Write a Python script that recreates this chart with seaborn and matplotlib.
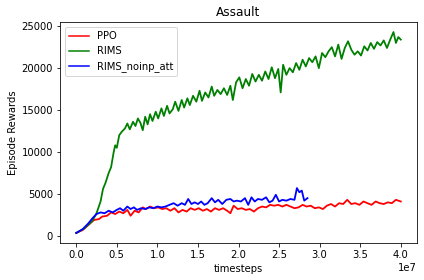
import numpy as np
import pandas as pd
import matplotlib
matplotlib.use('Agg')
import matplotlib.pyplot as plt
import seaborn as sns

# timesteps in millions, rewards
ppo_steps = [0, 0.8, 1.5, 2.2, 2.8, 3.2, 3.8, 4.3, 4.8, 5.3, 5.8, 6.3, 6.7, 7.2, 7.7, 8.2, 8.6, 9.1,
             9.6, 10.1, 10.6, 11.1, 11.6, 12.1, 12.6, 13.1, 13.6, 14.1, 14.6, 15.1, 15.6, 16.1, 16.6,
             17.1, 17.6, 18.1, 18.6, 19.0, 19.4, 19.9, 20.4, 20.9, 21.4, 21.9, 22.4, 22.9, 23.4, 23.9,
             24.4, 24.9, 25.4, 25.9, 26.4, 26.9, 27.4, 27.9, 28.4, 28.9, 29.4, 29.9, 30.4, 30.9, 31.4,
             31.9, 32.4, 32.9, 33.4, 33.9, 34.4, 34.9, 35.4, 35.9, 36.4, 36.9, 37.4, 37.9, 38.4, 38.9,
             39.4, 40.0]
ppo_reward = [350, 700, 1300, 1900, 2000, 2300, 2400, 2800, 2600, 2900, 2700, 3100, 2400, 3000, 2800,
              3400, 3200, 3500, 3300, 3400, 3200, 3300, 3000, 3300, 2800, 3100, 2900, 3300, 3100, 3300,
              3000, 3200, 2900, 3300, 3100, 3300, 3000, 2700, 3600, 3200, 3300, 3100, 3200, 2900, 3300,
              3500, 3400, 3700, 3600, 3700, 3500, 3700, 3500, 3300, 3400, 3700, 3500, 3600, 3300, 3400,
              3200, 3600, 3800, 3500, 3900, 3800, 4300, 3800, 3900, 3700, 4100, 3900, 3700, 4100, 3900,
              3800, 4000, 3900, 4300, 4100]

rims_steps = [0, 1, 2, 2.5, 3, 3.3, 3.6, 4, 4.3, 4.6, 4.8, 5.0, 5.3, 5.6, 6.0, 6.3, 6.6, 7.0, 7.3, 7.6,
              7.9, 8.2, 8.5, 8.8, 9.1, 9.4, 9.8, 10.1, 10.5, 10.8, 11.2, 11.5, 11.9, 12.2, 12.6, 13.0,
              13.3, 13.7, 14.0, 14.4, 14.8, 15.2, 15.5, 15.9, 16.3, 16.7, 17.0, 17.4, 17.8, 18.2, 18.6,
              19.0, 19.3, 19.7, 20.1, 20.5, 20.9, 21.3, 21.7, 22.1, 22.5, 22.9, 23.3, 23.7, 24.1, 24.5,
              24.9, 25.2, 25.5, 25.9, 26.3, 26.7, 27.1, 27.5, 27.9, 28.3, 28.7, 29.1, 29.5, 29.9, 30.3,
              30.7, 31.1, 31.5, 31.9, 32.3, 32.7, 33.1, 33.5, 33.9, 34.3, 34.7, 35.1, 35.5, 35.9, 36.3,
              36.7, 37.1, 37.5, 37.9, 38.3, 38.7, 39.1, 39.4, 39.7, 40.0]
rims_reward = [350, 900, 1800, 2700, 4100, 5600, 6300, 7500, 8200, 9900, 10800, 10500, 12000, 12400,
               12800, 13400, 12700, 13600, 13100, 14000, 13500, 12600, 14200, 13300, 14500, 13700, 14800,
               14000, 15200, 14300, 15500, 14600, 15100, 16000, 14900, 16200, 15300, 16400, 15600, 16700,
               16000, 17300, 16100, 17100, 16500, 17800, 16700, 17400, 16900, 17600, 16800, 17900, 16200,
               18300, 18900, 17600, 18700, 17900, 19300, 18400, 19200, 18500, 19600, 18700, 20100, 18800,
               19900, 17100, 20400, 19200, 20000, 19500, 20600, 19800, 21000, 20200, 21200, 20700, 21400,
               20000, 21800, 21300, 22000, 22500, 21400, 22800, 21100, 22400, 23200, 22200, 21600, 22000,
               21500, 22600, 22100, 23000, 22300, 23100, 22700, 23300, 22400, 23400, 24300, 23000, 23700,
               23400]

noinp_steps = [0, 0.8, 1.5, 2.0, 2.5, 3.0, 3.5, 4.0, 4.5, 5.0, 5.4, 5.8, 6.3, 6.7, 7.1, 7.5, 8.0, 8.5,
               9.0, 9.5, 10.0, 10.5, 11.0, 11.5, 12.0, 12.5, 13.0, 13.4, 13.8, 14.2, 14.6, 15.0, 15.4,
               15.8, 16.2, 16.7, 17.1, 17.5, 18.0, 18.5, 19.0, 19.4, 19.8, 20.3, 20.8, 21.2, 21.6, 22.0,
               22.4, 22.9, 23.4, 23.8, 24.2, 24.6, 25.0, 25.4, 25.9, 26.4, 26.9, 27.2, 27.5, 27.8, 28.1,
               28.5]
noinp_reward = [350, 800, 1500, 2100, 2600, 2800, 2700, 3000, 2800, 3100, 3300, 3000, 3500, 3200, 3400,
                3100, 3300, 3200, 3400, 3300, 3500, 3400, 3500, 3700, 3900, 3600, 3900, 3700, 4400, 3800,
                4000, 3800, 4100, 3700, 3900, 4500, 4000, 4300, 3800, 4300, 4400, 4100, 4200, 4100, 4500,
                3700, 4600, 4100, 4400, 4300, 4600, 4000, 4200, 4900, 4100, 4300, 4200, 4400, 4300, 5700,
                5200, 5400, 4200, 4500]

fig = plt.figure(figsize=(424 / 72, 280 / 72), dpi=72)
ax = fig.add_axes([60 / 424, 1 - 243 / 280, (417 - 60) / 424, (243 - 22) / 280])

sns.lineplot(x=np.array(ppo_steps) * 1e6, y=ppo_reward, color='r', label='PPO',
             estimator=None, linewidth=1.8, ax=ax)
sns.lineplot(x=np.array(rims_steps) * 1e6, y=rims_reward, color='g', label='RIMS',
             estimator=None, linewidth=1.8, ax=ax)
sns.lineplot(x=np.array(noinp_steps) * 1e6, y=noinp_reward, color='b', label='RIMS_noinp_att',
             estimator=None, linewidth=1.8, ax=ax)

ax.set_title('Assault')
ax.set_xlabel('timesteps')
ax.set_ylabel('Episode Rewards')
ax.set_yticks([0, 5000, 10000, 15000, 20000, 25000])
ax.legend(loc='upper left')
for line in ax.get_legend().get_lines():
    line.set_linewidth(1.5)

fig.savefig('out.png', dpi=72)
